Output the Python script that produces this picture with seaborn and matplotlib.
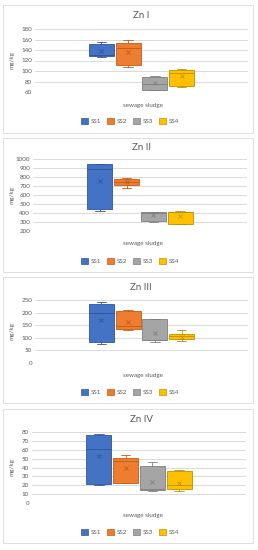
import matplotlib
matplotlib.use("Agg")
import matplotlib.pyplot as plt
from matplotlib.patches import Rectangle, Patch
import seaborn as sns

# ---------------- data ----------------
groups = ["SS1", "SS2", "SS3", "SS4"]
titles = ["Zn I", "Zn II", "Zn III", "Zn IV"]

zn1_low = [126, 108, 64, 70]
zn1_q1 = [128, 112, 64, 71]
zn1_med = [130, 144, 75, 96]
zn1_q3 = [151, 153, 88, 102]
zn1_high = [156, 160, 90, 104]
zn1_mean = [138, 137, 77, 91]

zn2_low = [424, 682, 304, 274]
zn2_q1 = [443, 716, 312, 282]
zn2_med = [884, 740, 400, 409]
zn2_q3 = [940, 783, 409, 413]
zn2_high = [948, 790, 416, 420]
zn2_mean = [760, 746, 376, 372]

zn3_low = [75, 130, 83, 88]
zn3_q1 = [82, 136, 93, 94]
zn3_med = [200, 145, 93, 106]
zn3_q3 = [235, 207, 173, 116]
zn3_high = [242, 210, 174, 132]
zn3_mean = [172, 163, 121, 105]

zn4_low = [20, 22, 14, 14]
zn4_q1 = [21, 22.7, 14.6, 16]
zn4_med = [61, 47.7, 16, 20]
zn4_q3 = [76.5, 50.4, 41.5, 36]
zn4_high = [78, 54, 46, 37.7]
zn4_mean = [53, 40, 24, 23]

yticks1 = [60, 80, 100, 120, 140, 160, 180]
yticks2 = [200, 300, 400, 500, 600, 700, 800, 900, 1000]
yticks3 = [0, 50, 100, 150, 200, 250]
yticks4 = [0, 10, 20, 30, 40, 50, 60, 70, 80]

fills = ["#4472C4", "#ED7D31", "#A5A5A5", "#FFC000"]
edges = ["#2F5597", "#C55A11", "#7F7F7F", "#BF9000"]

# ---------------- layout (pixels) ----------------
W, H = 258, 550
sns.set_theme(style="white")
plt.rcParams["font.family"] = ["Lato", "DejaVu Sans"]
TXT = "#595959"

fig = plt.figure(figsize=(W / 100, H / 100), dpi=100)
fig.patch.set_facecolor("white")

panels = [
    dict(ax=(35, 248, 29, 92), title=15, xlab=106, leg=121, border=(5, 133),
         data=(zn1_low, zn1_q1, zn1_med, zn1_q3, zn1_high, zn1_mean), yt=yticks1),
    dict(ax=(33, 247, 159, 231), title=147, xlab=244, leg=261, border=(138, 272),
         data=(zn2_low, zn2_q1, zn2_med, zn2_q3, zn2_high, zn2_mean), yt=yticks2),
    dict(ax=(35, 248, 300, 363), title=287, xlab=376, leg=392, border=(277, 403),
         data=(zn3_low, zn3_q1, zn3_med, zn3_q3, zn3_high, zn3_mean), yt=yticks3),
    dict(ax=(32, 246, 432, 503), title=420, xlab=516, leg=532, border=(409, 543),
         data=(zn4_low, zn4_q1, zn4_med, zn4_q3, zn4_high, zn4_mean), yt=yticks4),
]

spacing = 26.7  # px between box centres
for p, title in zip(panels, titles):
    x0, x1, y0, y1 = p["ax"]
    ax = fig.add_axes([x0 / W, 1 - y1 / H, (x1 - x0) / W, (y1 - y0) / H])
    ax.set_facecolor("white")
    # border around panel
    b0, b1 = p["border"]
    fig.patches.append(Rectangle((3 / W, 1 - b1 / H), 250 / W, (b1 - b0) / H,
                                 transform=fig.transFigure, fill=False,
                                 edgecolor="#D9D9D9", linewidth=0.6))
    low, q1, med, q3, high, mean = p["data"]
    for i, g in enumerate(groups):
        st = [dict(whislo=low[i], q1=q1[i], med=med[i], q3=q3[i],
                   whishi=high[i], mean=mean[i], fliers=[], label=g)]
        ax.bxp(st, positions=[i], widths=0.94, patch_artist=True, showmeans=True,
               boxprops=dict(facecolor=fills[i], edgecolor=edges[i], linewidth=0.6),
               medianprops=dict(color=edges[i], linewidth=0.6),
               whiskerprops=dict(color=edges[i], linewidth=0.6),
               capprops=dict(color=edges[i], linewidth=0.6),
               capwidths=0.35,
               meanprops=dict(marker="x", markeredgecolor=edges[i],
                              markersize=3.5, markeredgewidth=0.6))
    hw = (x1 - x0) / 2 / spacing
    ax.set_xlim(1.5 - hw, 1.5 + hw)
    yt = p["yt"]
    ax.set_ylim(yt[0], yt[-1])
    ax.set_yticks(yt)
    ax.set_yticklabels([str(v) for v in yt], fontsize=4.5, color=TXT)
    ax.set_xticks([])
    ax.tick_params(axis="y", length=0, pad=2)
    ax.grid(axis="y", color="#D4D4D4", linewidth=0.6)
    ax.set_axisbelow(True)
    for s in ax.spines.values():
        s.set_visible(False)
    # title / labels
    fig.text(141 / W, 1 - p["title"] / H, title, ha="center", va="center",
             fontsize=7, color=TXT)
    fig.text(143 / W, 1 - p["xlab"] / H, "sewage sludge", ha="center", va="center",
             fontsize=4.5, color=TXT)
    fig.text(12 / W, 1 - (y0 + y1) / 2 / H, "mg/kg", ha="center", va="center",
             rotation=90, fontsize=4.5, color=TXT)
    handles = [Patch(facecolor=fills[i], edgecolor=edges[i], linewidth=0.5)
               for i in range(4)]
    fig.legend(handles, groups, loc="center", bbox_to_anchor=(130 / W, 1 - p["leg"] / H),
               ncol=4, frameon=False, fontsize=4.5, labelcolor=TXT,
               handlelength=1.1, handleheight=1.1, handletextpad=0.4,
               columnspacing=1.0, borderpad=0)

fig.savefig("out.png", dpi=100, facecolor="white")
